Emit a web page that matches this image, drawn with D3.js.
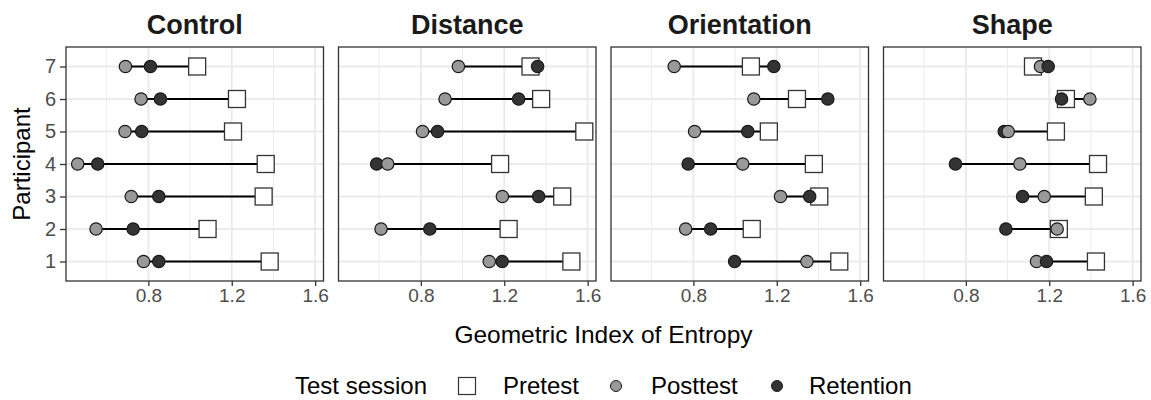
<!DOCTYPE html>
<html>
<head>
<meta charset="utf-8">
<script src="https://cdn.jsdelivr.net/npm/d3@7"></script>
<style>
  body { margin: 0; background: #fff; }
  text { font-family: "Liberation Sans", Arial, sans-serif; }
</style>
</head>
<body>
<svg id="chart" width="1151" height="400"></svg>
<script>
// ---- Data ----
const panels = ["Control", "Distance", "Orientation", "Shape"];
const participants = [1, 2, 3, 4, 5, 6, 7];
const sessions = ["Pretest", "Posttest", "Retention"];
const xTicks = [0.8, 1.2, 1.6];
const xMinor = [0.6, 1.0, 1.4];

// values per participant 1..7
const controlPre  = [1.382, 1.084, 1.353, 1.363, 1.206, 1.225, 1.034];
const controlPost = [0.777, 0.549, 0.718, 0.461, 0.688, 0.765, 0.690];
const controlRet  = [0.850, 0.727, 0.850, 0.557, 0.768, 0.858, 0.810];

const distancePre  = [1.522, 1.221, 1.478, 1.180, 1.584, 1.377, 1.326];
const distancePost = [1.128, 0.609, 1.191, 0.641, 0.808, 0.916, 0.980];
const distanceRet  = [1.190, 0.843, 1.365, 0.588, 0.880, 1.269, 1.360];

const orientationPre  = [1.500, 1.080, 1.404, 1.378, 1.162, 1.297, 1.076];
const orientationPost = [1.345, 0.763, 1.218, 1.037, 0.806, 1.090, 0.708];
const orientationRet  = [0.998, 0.883, 1.358, 0.775, 1.061, 1.445, 1.186];

const shapePre  = [1.424, 1.246, 1.414, 1.434, 1.232, 1.280, 1.122];
const shapePost = [1.139, 1.238, 1.176, 1.059, 1.003, 1.395, 1.158];
const shapeRet  = [1.187, 0.992, 1.072, 0.750, 0.984, 1.259, 1.195];

const panelData = [
  [controlPre, controlPost, controlRet],
  [distancePre, distancePost, distanceRet],
  [orientationPre, orientationPost, orientationRet],
  [shapePre, shapePost, shapeRet]
];

// ---- Layout ----
const svg = d3.select("#chart");
const pTop = 47, pBottom = 281;
const pLeft = 66, pRight = 1141, gap = 15;
const pw = (pRight - pLeft - gap * 3) / 4;

const allVals = panelData.flat(2);
const dmin = d3.min(allVals), dmax = d3.max(allVals);
const ext = (dmax - dmin) * 0.05;
const x = d3.scaleLinear().domain([dmin - ext, dmax + ext]).range([0, pw]);
const y = d3.scalePoint().domain(participants).range([pBottom, pTop]).padding(0.6);

const fillCol = {Pretest: "#ffffff", Posttest: "#999999", Retention: "#333333"};
const textGray = "#4d4d4d";

panels.forEach((name, i) => {
  const g = svg.append("g").attr("transform", `translate(${pLeft + i * (pw + gap)},0)`);
  // grid
  g.selectAll(".minor").data(xMinor).join("line")
    .attr("x1", d => x(d)).attr("x2", d => x(d)).attr("y1", pTop).attr("y2", pBottom)
    .attr("stroke", "#ebebeb").attr("stroke-width", 1);
  g.selectAll(".major").data(xTicks).join("line")
    .attr("x1", d => x(d)).attr("x2", d => x(d)).attr("y1", pTop).attr("y2", pBottom)
    .attr("stroke", "#ebebeb").attr("stroke-width", 2);
  g.selectAll(".ymajor").data(participants).join("line")
    .attr("x1", 0).attr("x2", pw).attr("y1", d => y(d)).attr("y2", d => y(d))
    .attr("stroke", "#ebebeb").attr("stroke-width", 2);

  const [pre, post, ret] = panelData[i];
  const rows = participants.map((p, k) => ({p, vals: [pre[k], post[k], ret[k]]}));

  // segments from min to max
  g.selectAll(".seg").data(rows).join("line")
    .attr("x1", d => x(d3.min(d.vals))).attr("x2", d => x(d3.max(d.vals)))
    .attr("y1", d => y(d.p)).attr("y2", d => y(d.p))
    .attr("stroke", "#000").attr("stroke-width", 2);

  // squares (pretest)
  const s = 17;
  g.selectAll(".sq").data(rows).join("rect")
    .attr("x", d => x(d.vals[0]) - s / 2).attr("y", d => y(d.p) - s / 2)
    .attr("width", s).attr("height", s)
    .attr("fill", "#fff").attr("stroke", "#333").attr("stroke-width", 1.3);

  // circles, rightmost drawn on top
  const circ = [];
  rows.forEach(d => {
    circ.push({p: d.p, v: d.vals[1], s: "Posttest"});
    circ.push({p: d.p, v: d.vals[2], s: "Retention"});
  });
  circ.sort((a, b) => a.v - b.v);
  g.selectAll(".ci").data(circ).join("circle")
    .attr("cx", d => x(d.v)).attr("cy", d => y(d.p)).attr("r", 6.2)
    .attr("fill", d => fillCol[d.s]).attr("stroke", "#1a1a1a").attr("stroke-width", 1.2);

  // border
  g.append("rect").attr("x", 0).attr("y", pTop).attr("width", pw).attr("height", pBottom - pTop)
    .attr("fill", "none").attr("stroke", "#333").attr("stroke-width", 1.3);

  // x axis
  const xa = g.append("g").attr("transform", `translate(0,${pBottom})`)
    .call(d3.axisBottom(x).tickValues(xTicks).tickFormat(d3.format(".1f")).tickSize(5).tickPadding(3));
  xa.select(".domain").remove();
  xa.selectAll(".tick line").attr("stroke", "#333").attr("stroke-width", 1.3);
  xa.selectAll(".tick text").attr("fill", textGray).style("font-size", "19px")
    .style("font-family", "'Liberation Sans', Arial, sans-serif");

  if (i === 0) {
    const ya = g.append("g").call(d3.axisLeft(y).tickSize(6).tickPadding(4));
    ya.select(".domain").remove();
    ya.selectAll(".tick line").attr("stroke", "#333").attr("stroke-width", 1.3);
    ya.selectAll(".tick text").attr("fill", textGray).style("font-size", "20px")
      .style("font-family", "'Liberation Sans', Arial, sans-serif");
  }

  // title
  g.append("text").attr("x", pw / 2).attr("y", 34).attr("text-anchor", "middle")
    .attr("fill", "#1a1a1a").style("font-size", "27px").style("font-weight", "bold").text(name);
});

// axis titles
svg.append("text").attr("x", (pLeft + pRight) / 2).attr("y", 343).attr("text-anchor", "middle")
  .attr("fill", "#000").style("font-size", "24.5px").text("Geometric Index of Entropy");
svg.append("text").attr("transform", `translate(30,${(pTop + pBottom) / 2}) rotate(-90)`)
  .attr("text-anchor", "middle").attr("fill", "#000").style("font-size", "24px").text("Participant");

// legend
const lg = svg.append("g").attr("transform", "translate(0,386)");
lg.append("text").attr("x", 295).attr("y", 8).attr("fill", "#000").style("font-size", "24px").text("Test session");
const legendX = [467, 616, 777];
const legendTextX = [503, 651, 809];
sessions.forEach((s, k) => {
  if (s === "Pretest") {
    lg.append("rect").attr("x", legendX[k] - 8.5).attr("y", -8.5).attr("width", 17).attr("height", 17)
      .attr("fill", "#fff").attr("stroke", "#333").attr("stroke-width", 1.2);
  } else {
    lg.append("circle").attr("cx", legendX[k]).attr("cy", 0).attr("r", 5.5)
      .attr("fill", fillCol[s]).attr("stroke", "#1a1a1a").attr("stroke-width", 1);
  }
  lg.append("text").attr("x", legendTextX[k]).attr("y", 8).attr("fill", "#000").style("font-size", "24px").text(s);
});
</script>
</body>
</html>
